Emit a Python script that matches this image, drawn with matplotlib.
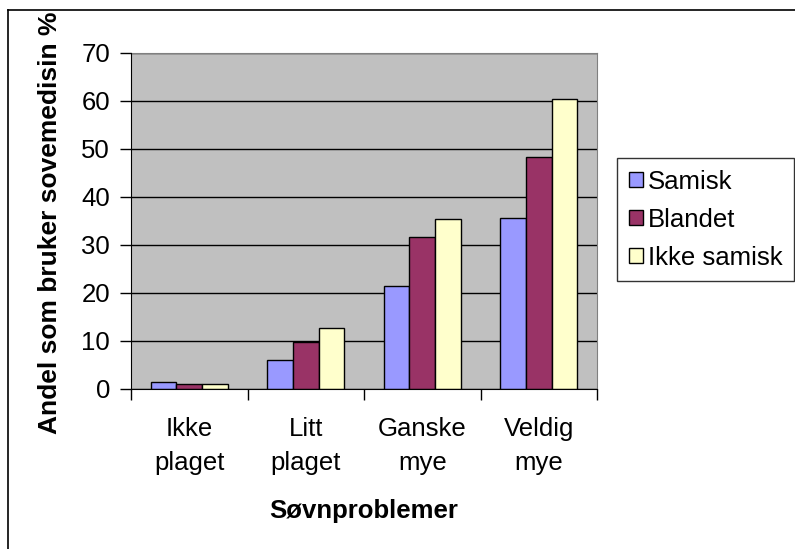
import numpy as np
import matplotlib
matplotlib.use('Agg')
import matplotlib.pyplot as plt
from matplotlib.lines import Line2D
from matplotlib.transforms import Bbox, TransformedBbox

plt.rcParams['font.family'] = ['Liberation Sans', 'DejaVu Sans']

categories = ['Ikke\nplaget', 'Litt\nplaget', 'Ganske\nmye', 'Veldig\nmye']
series = ['Samisk', 'Blandet', 'Ikke samisk']
samisk = [1.4, 6.0, 21.4, 35.7]
blandet = [1.0, 9.8, 31.7, 48.4]
ikke_samisk = [1.0, 12.8, 35.4, 60.5]
colors = ['#9999FF', '#993366', '#FFFFCC']
yticks = [0, 10, 20, 30, 40, 50, 60, 70]

W, H = 795, 549
fs = 18.5
fig = plt.figure(figsize=(W / 100, H / 100), dpi=100)
ax = fig.add_axes([131 / W, 1 - 389 / H, (597 - 131) / W, (389 - 53) / H])
ax.set_facecolor('#C0C0C0')

x = np.arange(len(categories))
w = 0.22
for i, (vals, name) in enumerate(zip([samisk, blandet, ikke_samisk], series)):
    ax.bar(x + (i - 1) * w, vals, w, color=colors[i], edgecolor='black',
           linewidth=1, label=name, zorder=3)

ax.set_xlim(-0.5, len(categories) - 0.5)
ax.set_ylim(0, 70)
ax.set_yticks(yticks)
ax.yaxis.grid(True, color='black', linewidth=1, zorder=1)
ax.set_axisbelow(True)

# x ticks at category boundaries, labels centered in categories
ax.set_xticks(np.arange(len(categories) + 1) - 0.5)
ax.set_xticklabels([])
ax.set_xticks(x, minor=True)
ax.set_xticklabels(categories, minor=True, fontsize=fs, linespacing=1.55)
ax.tick_params(axis='x', which='minor', length=0, pad=20)
ax.tick_params(axis='x', which='major', length=8, width=1, direction='out')
ax.tick_params(axis='y', length=8, width=1, direction='out', labelsize=fs, pad=7)

for s in ['top', 'right']:
    ax.spines[s].set_color('#808080')
for s in ['left', 'bottom']:
    ax.spines[s].set_color('black')
    ax.spines[s].set_zorder(4)

fig.text(364 / W, 1 - 518 / H, 'Søvnproblemer', ha='center', va='baseline',
         fontsize=fs, fontweight='bold')
yl = fig.text(50 / W, 1 - 434 / H, 'Andel som bruker sovemedisin %', rotation=90,
              ha='center', va='bottom', fontsize=19, fontweight='bold')
yl.set_clip_box(TransformedBbox(Bbox([[0, 0], [1, 1 - 10 / H]]), fig.transFigure))
yl.set_clip_on(True)

leg = fig.legend(loc='upper left', bbox_to_anchor=(617 / W, 1 - 158 / H),
                 fontsize=fs, frameon=True, fancybox=False, edgecolor='black',
                 handlelength=0.55, handleheight=0.55, handletextpad=0.2,
                 labelspacing=0.55, borderpad=0.45, borderaxespad=0)
leg.get_frame().set_linewidth(1)

# outer chart border (left and top visible)
fig.add_artist(Line2D([8 / W, 8 / W], [0, 1 - 10 / H], color='black', lw=1.2))
fig.add_artist(Line2D([8 / W, 1], [1 - 10 / H, 1 - 10 / H], color='black', lw=1.2))

fig.savefig('out.png', dpi=100)
